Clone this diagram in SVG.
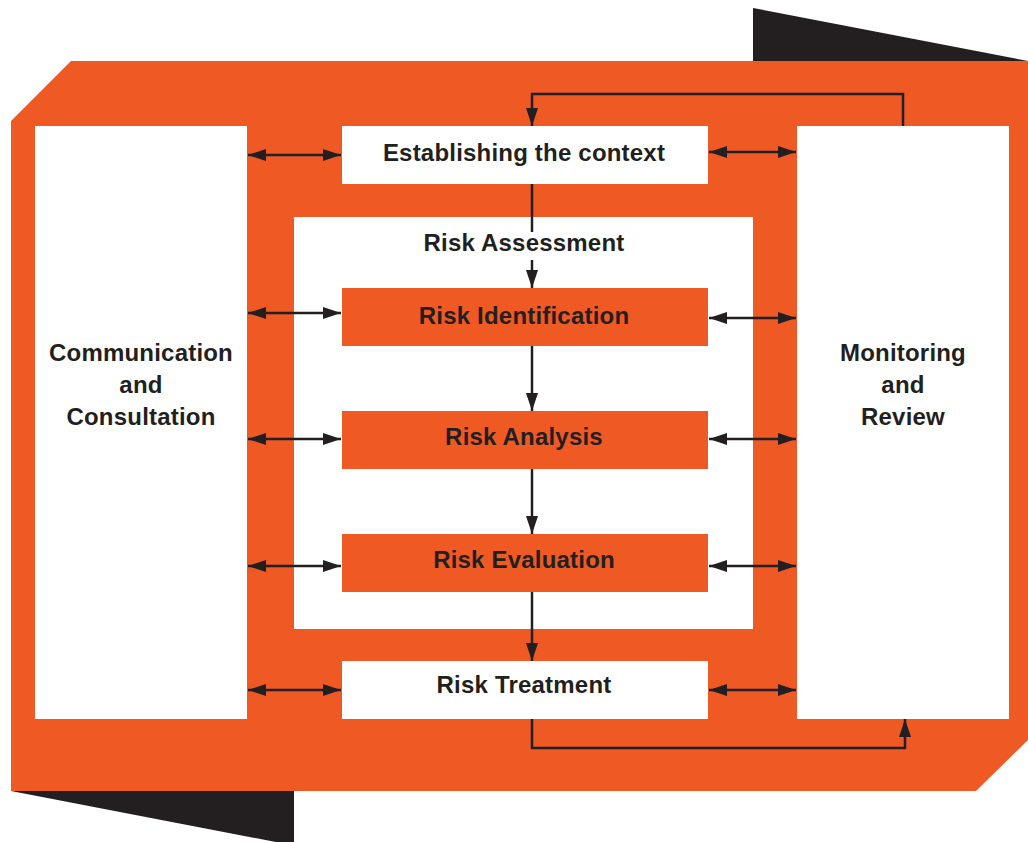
<svg xmlns="http://www.w3.org/2000/svg" width="1028" height="842" viewBox="0 0 1028 842">
<defs>
<style>
.or{fill:#EF5924}
.wh{fill:#FFFFFF}
.dk{fill:#231F20}
.t{font-family:"Liberation Sans",Arial,sans-serif;font-weight:bold;font-size:24px;letter-spacing:0.2px;fill:#231F20;text-anchor:middle}
.ln{stroke:#231F20;stroke-width:2.5;fill:none}
</style>
<marker id="ah" viewBox="0 0 18 12" refX="18" refY="6" markerWidth="18" markerHeight="12" markerUnits="userSpaceOnUse" orient="auto-start-reverse">
<path d="M0,0 L18,6 L0,12 Z" fill="#231F20"/>
</marker>
</defs>
<rect width="1028" height="842" fill="#FFFFFF"/>
<g id="background">
<polygon class="dk" points="753,8 1028,61 753,61"/>
<polygon class="dk" points="11,791 294,791 294,842 276,842"/>
<polygon class="or" points="71,61 1028,61 1028,740 976,791 11,791 11,121"/>
</g>
<g id="comm">
<rect class="wh" x="35" y="126" width="212" height="593"/>
<text class="t" x="141" y="361">Communication</text>
<text class="t" x="141" y="393">and</text>
<text class="t" x="141" y="425">Consultation</text>
</g>
<g id="monitor">
<rect class="wh" x="797" y="126" width="212" height="593"/>
<text class="t" x="903" y="361">Monitoring</text>
<text class="t" x="903" y="393">and</text>
<text class="t" x="903" y="425">Review</text>
</g>
<g id="context">
<rect class="wh" x="342" y="126" width="366" height="58"/>
<text class="t" x="524" y="161">Establishing the context</text>
</g>
<g id="assessment">
<rect class="wh" x="294" y="217" width="459" height="412"/>
<text class="t" x="524" y="251">Risk Assessment</text>
</g>
<g id="identification">
<rect class="or" x="342" y="288" width="366" height="58"/>
<text class="t" x="524" y="324">Risk Identification</text>
</g>
<g id="analysis">
<rect class="or" x="342" y="411" width="366" height="58"/>
<text class="t" x="524" y="445">Risk Analysis</text>
</g>
<g id="evaluation">
<rect class="or" x="342" y="534" width="366" height="58"/>
<text class="t" x="524" y="568">Risk Evaluation</text>
</g>
<g id="treatment">
<rect class="wh" x="342" y="661" width="366" height="58"/>
<text class="t" x="524" y="693">Risk Treatment</text>
</g>
<g id="connectors">
<line class="ln" x1="248" y1="155" x2="341" y2="155" marker-start="url(#ah)" marker-end="url(#ah)"/>
<line class="ln" x1="248" y1="313" x2="341" y2="313" marker-start="url(#ah)" marker-end="url(#ah)"/>
<line class="ln" x1="248" y1="439" x2="341" y2="439" marker-start="url(#ah)" marker-end="url(#ah)"/>
<line class="ln" x1="248" y1="566" x2="341" y2="566" marker-start="url(#ah)" marker-end="url(#ah)"/>
<line class="ln" x1="248" y1="690" x2="341" y2="690" marker-start="url(#ah)" marker-end="url(#ah)"/>
<line class="ln" x1="709" y1="152" x2="796" y2="152" marker-start="url(#ah)" marker-end="url(#ah)"/>
<line class="ln" x1="709" y1="318" x2="796" y2="318" marker-start="url(#ah)" marker-end="url(#ah)"/>
<line class="ln" x1="709" y1="439" x2="796" y2="439" marker-start="url(#ah)" marker-end="url(#ah)"/>
<line class="ln" x1="709" y1="566" x2="796" y2="566" marker-start="url(#ah)" marker-end="url(#ah)"/>
<line class="ln" x1="709" y1="690" x2="796" y2="690" marker-start="url(#ah)" marker-end="url(#ah)"/>
<line class="ln" x1="532" y1="184" x2="532" y2="232"/>
<line class="ln" x1="532" y1="260" x2="532" y2="288" marker-end="url(#ah)"/>
<line class="ln" x1="532" y1="346" x2="532" y2="411" marker-end="url(#ah)"/>
<line class="ln" x1="532" y1="469" x2="532" y2="534" marker-end="url(#ah)"/>
<line class="ln" x1="532" y1="592" x2="532" y2="661" marker-end="url(#ah)"/>
<polyline class="ln" points="903,126 903,94 532,94 532,126" marker-end="url(#ah)"/>
<polyline class="ln" points="532,719 532,748 905,748 905,719" marker-end="url(#ah)"/>
</g>
</svg>
